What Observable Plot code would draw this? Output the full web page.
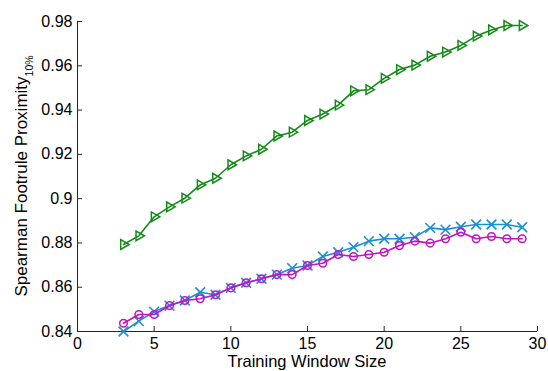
<!DOCTYPE html>
<html>
<head>
<meta charset="utf-8">
<script src="https://cdn.jsdelivr.net/npm/d3@7"></script>
<script src="https://cdn.jsdelivr.net/npm/@observablehq/plot@0.6"></script>
<style>
  html, body { margin: 0; padding: 0; background: #fff; }
  #chart svg { display: block; }
</style>
</head>
<body>
<div id="chart"></div>
<script>
// Training window sizes (x) and the proximity score of each method (y)
const windowSizes = [3, 4, 5, 6, 7, 8, 9, 10, 11, 12, 13, 14, 15, 16, 17, 18, 19, 20, 21, 22, 23, 24, 25, 26, 27, 28, 29];

const seriesGreen = [0.8793, 0.8832, 0.8918, 0.8963, 0.9002, 0.9062, 0.9092, 0.9153, 0.9193, 0.9223, 0.9283, 0.9300, 0.9353, 0.9382,
  0.9422, 0.9487, 0.9492, 0.9543, 0.9583, 0.9603, 0.9643, 0.9662, 0.9692, 0.9734, 0.9762, 0.9782, 0.9782];

const seriesBlue = [0.8400, 0.8447, 0.8490, 0.8517, 0.8540, 0.8577, 0.8566, 0.8597, 0.8620, 0.8638, 0.8657, 0.8686, 0.8698, 0.8739,
  0.8758, 0.8781, 0.8808, 0.8819, 0.8819, 0.8826, 0.8868, 0.8860, 0.8873, 0.8883, 0.8883, 0.8883, 0.8871];

const seriesMagenta = [0.8437, 0.8477, 0.8477, 0.8517, 0.8540, 0.8548, 0.8566, 0.8597, 0.8620, 0.8638, 0.8657, 0.8657, 0.8698, 0.8708,
  0.8748, 0.8739, 0.8748, 0.8758, 0.8788, 0.8808, 0.8799, 0.8819, 0.8848, 0.8819, 0.8829, 0.8819, 0.8819];

const xTicks = [0, 5, 10, 15, 20, 25, 30];
const yTicks = [0.84, 0.86, 0.88, 0.90, 0.92, 0.94, 0.96, 0.98];
const yTickLabels = ["0.84", "0.86", "0.88", "0.9", "0.92", "0.94", "0.96", "0.98"];

const xTitle = "Training Window Size";
const yTitle = "Spearman Footrule Proximity";
const yTitleSub = "10%";

const colors = { green: "#138a17", blue: "#1b8fd2", magenta: "#c412c4" };

const rows = values => windowSizes.map((size, i) => ({ size, value: values[i] }));
const green = rows(seriesGreen);
const blue = rows(seriesBlue);
const magenta = rows(seriesMagenta);

const font = "'Liberation Sans', Arial, Helvetica, sans-serif";
const axisColor = "#262626";

const plot = Plot.plot({
  width: 548,
  height: 371,
  marginLeft: 77,
  marginRight: 11,
  marginTop: 21,
  marginBottom: 40,
  style: { fontFamily: font, fontSize: "16px", color: axisColor, background: "#fff", overflow: "visible" },
  x: { domain: [0, 30] },
  y: { domain: [0.84, 0.98] },
  marks: [
    // open axes: only left and bottom lines, ticks pointing inward
    Plot.ruleX([0], { stroke: axisColor, strokeWidth: 1 }),
    Plot.ruleY([0.84], { stroke: axisColor, strokeWidth: 1 }),
    Plot.axisX(xTicks, { tickSize: -5, tickPadding: 11.5, label: null, stroke: axisColor, fill: "#000" }),
    Plot.axisY(yTicks, {
      tickSize: -5, tickPadding: 10, label: null, stroke: axisColor, fill: "#000",
      tickFormat: d => yTickLabels[yTicks.findIndex(t => Math.abs(t - d) < 1e-9)]
    }),

    // series lines with their markers
    Plot.line(green, { x: "size", y: "value", stroke: colors.green, strokeWidth: 1.6 }),
    Plot.dot(green, { x: "size", y: "value", symbol: "triangle", rotate: 90, r: 3.6, stroke: colors.green, fill: "none", strokeWidth: 1.5 }),

    Plot.line(blue, { x: "size", y: "value", stroke: colors.blue, strokeWidth: 1.6 }),
    Plot.dot(blue, { x: "size", y: "value", symbol: "times", r: 4.5, stroke: colors.blue, fill: "none", strokeWidth: 1.6 }),

    Plot.line(magenta, { x: "size", y: "value", stroke: colors.magenta, strokeWidth: 1.6 }),
    Plot.dot(magenta, { x: "size", y: "value", symbol: "circle", r: 3.8, stroke: colors.magenta, fill: "none", strokeWidth: 1.5 })
  ]
});

document.getElementById("chart").appendChild(plot);

// Axis titles (the y title carries a subscript, so it is written as SVG text with a tspan)
const svg = d3.select(plot);
const [xa, xb] = plot.scale("x").range;
const [ya, yb] = plot.scale("y").range;

svg.append("text")
  .attr("x", (xa + xb) / 2)
  .attr("y", 367.4)
  .attr("text-anchor", "middle")
  .attr("font-family", font)
  .attr("font-size", 16.5)
  .attr("fill", "#000")
  .text(xTitle);

const yt = svg.append("text")
  .attr("transform", `translate(27,${(ya + yb) / 2}) rotate(-90)`)
  .attr("text-anchor", "middle")
  .attr("font-family", font)
  .attr("font-size", 17)
  .attr("fill", "#000");
yt.append("tspan").text(yTitle);
yt.append("tspan").attr("font-size", 10.5).attr("dy", 6).text(yTitleSub);
</script>
</body>
</html>
